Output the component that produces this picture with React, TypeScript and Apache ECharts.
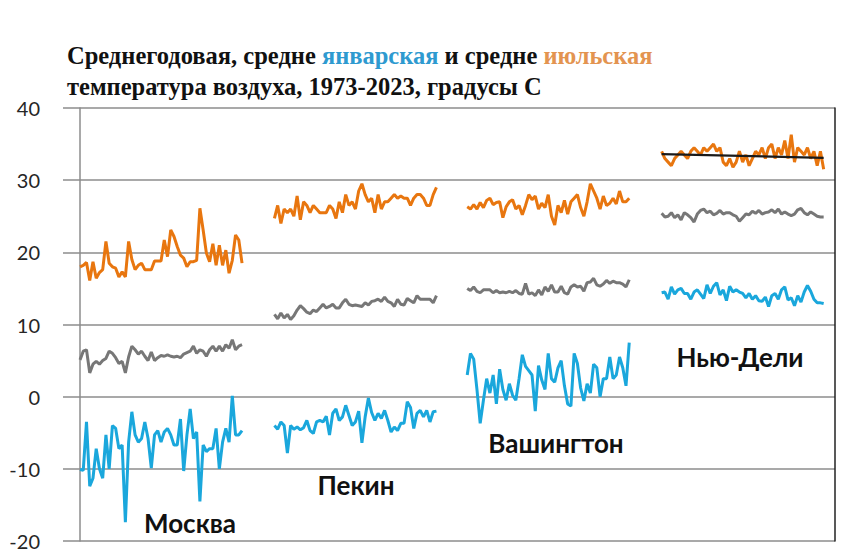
import React, { useEffect, useRef } from "react";
import * as echarts from "echarts";

// Years 1973..2023 (51 values per series)
const cities = ["Москва", "Пекин", "Вашингтон", "Нью-Дели"];

const moscowJuly = [18.0, 18.2, 18.6, 16.1, 18.7, 16.4, 17.2, 17.6, 21.5, 18.5, 18.0, 17.8, 16.6, 17.3, 16.6, 21.5, 19.0, 17.6, 18.2, 18.5, 17.6, 17.6, 17.6, 18.8, 18.8, 18.8, 21.7, 19.4, 23.1, 22.2, 20.8, 19.6, 19.2, 18.0, 18.7, 18.7, 18.9, 26.1, 23.1, 19.9, 18.7, 21.2, 18.2, 21.0, 18.2, 20.3, 17.1, 18.9, 22.4, 21.7, 18.5];
const moscowYear = [5.1, 6.3, 6.5, 3.3, 4.5, 4.9, 4.5, 5.0, 5.3, 6.3, 6.0, 5.4, 4.6, 4.9, 3.3, 5.5, 7.0, 6.5, 5.9, 6.3, 5.6, 5.0, 6.2, 5.0, 5.4, 5.7, 5.6, 5.8, 5.6, 5.5, 5.6, 5.4, 5.9, 6.1, 6.3, 7.0, 6.0, 6.5, 6.3, 5.6, 6.5, 7.0, 6.3, 7.0, 6.3, 7.2, 6.7, 7.9, 6.5, 7.0, 7.2];
const moscowJan = [-10.1, -10.2, -3.5, -12.4, -11.3, -7.2, -10, -11.3, -5.3, -10, -4, -4.4, -7.2, -6.7, -17.4, -6.3, -2.1, -5.3, -6.3, -5.8, -3.5, -5.8, -9.9, -5.3, -4.7, -6.3, -4.9, -4.4, -5.3, -6.7, -6.7, -3.1, -10.3, -5.3, -1.7, -5.8, -4.9, -14.5, -6.7, -7.6, -7.2, -7.2, -4.4, -10, -6.3, -4.4, -6.3, 0.1, -5.3, -5.3, -4.7];

const beijingJuly = [24.7, 26.5, 24, 26, 25.5, 26, 25, 27.8, 24.5, 27, 26.5, 25.5, 26.5, 26, 25.5, 25.5, 25.5, 26.5, 26, 24.7, 27, 25.5, 28, 26.5, 27, 26, 28.5, 29.5, 28, 27, 27.5, 25.5, 28, 26, 27, 27, 27.5, 28, 27.5, 27.8, 27.5, 27.5, 26.5, 27.5, 28, 28, 27.5, 26.5, 26.5, 28, 29];
const beijingYear = [11.4, 10.8, 11.6, 10.9, 11.4, 10.7, 11.2, 12, 12.6, 12.2, 11.7, 11.5, 12, 11.8, 12.3, 12.8, 12.3, 12.5, 12.8, 12.3, 12.3, 13, 13.5, 12.8, 12.6, 12.7, 12.6, 12.5, 13, 12.7, 13.2, 13.3, 13.5, 13.2, 13.8, 13.2, 13, 12.5, 13.5, 12.8, 12.7, 13.6, 13.3, 13, 14, 13.5, 13.5, 13.5, 13.5, 13, 14];
const beijingJan = [-4, -4.5, -3.5, -4, -7.8, -4, -4.5, -4.2, -4.6, -4.3, -3.3, -4.7, -5.1, -3.5, -3.3, -3.5, -2.7, -5.3, -2.3, -1.7, -3.3, -2.8, -1.2, -2.6, -4, -3.5, -2, -6.4, -2.8, -0.2, -2.2, -3.3, -2.3, -3, -1.9, -3.3, -4.9, -4.2, -4.7, -3.7, -3.7, -0.7, -1.5, -4.4, -2.3, -1.9, -2.8, -1.9, -3.5, -2.1, -2];

const washJuly = [26.3, 26.0, 26.6, 26.0, 26.9, 26.2, 27.2, 27.5, 26.6, 26.9, 27.0, 24.8, 26.3, 27.0, 27.3, 26.0, 26.5, 25.2, 26.5, 28.0, 27.3, 27.8, 26.0, 26.8, 26.2, 28.0, 25.0, 23.8, 26.5, 25.5, 27.2, 25.3, 27.0, 27.5, 28.0, 26.2, 25.0, 27.0, 29.5, 28.5, 27.5, 26.0, 27.8, 26.5, 26.8, 27.5, 26.7, 28.5, 27.0, 27.0, 27.5];
const washYear = [15.0, 14.7, 15.2, 14.6, 14.4, 14.8, 14.8, 14.8, 14.4, 14.7, 14.4, 14.5, 14.4, 14.6, 14.4, 14.7, 14.3, 14.2, 15.7, 14.2, 14.4, 14.0, 14.8, 14.1, 15.2, 14.6, 15.5, 14.5, 14.5, 15.3, 14.4, 14.2, 15.2, 15.5, 15.2, 15.3, 14.6, 15.8, 15.9, 16.4, 15.5, 15.3, 15.6, 16.1, 15.7, 16.0, 15.8, 15.8, 15.6, 15.2, 16.2];
const washJan = [3.0, 6.0, 5.2, 1.0, -3.7, -0.5, 2.5, 0.5, 3.0, -1.0, 3.8, 1.0, -0.5, 1.8, 0.2, -0.5, 2.5, 5.8, 4.2, 3.6, 3.0, -2.0, 4.3, 2.3, 1.0, 6.0, 2.5, 2.0, 4.0, 5.0, 1.5, -1.0, -1.3, 6.0, 4.6, 1.2, -0.6, 1.8, 0.5, 4.5, 4.0, 0.0, 2.5, 2.5, 5.5, 2.5, 3.0, 5.5, 4.0, 1.5, 7.5];

const delhiJuly = [34, 33, 32.5, 32, 33, 33.5, 34, 33.5, 33, 34, 34.5, 34, 33.5, 34.5, 34, 34.5, 35, 34, 34.5, 32.5, 32, 33, 31.8, 32.5, 34, 32.5, 33.5, 32, 33, 34, 33.5, 34.5, 33, 34.5, 35, 33, 34.5, 33.5, 35.5, 33, 36.3, 32.5, 34.5, 34, 33.5, 34.5, 33, 34, 32, 34, 31.5];
const delhiYear = [25.4, 24.9, 25, 25.5, 24.8, 25.2, 24.5, 25.5, 25.2, 24.8, 24.2, 25.3, 25.8, 26, 25.5, 25.7, 25.2, 25.4, 25.8, 25.3, 25.5, 25.5, 25.2, 25, 24.3, 24.8, 25.3, 25.2, 25.7, 25.4, 25.8, 25.3, 25.5, 25.6, 25.9, 25.5, 26, 25.3, 25.6, 25.3, 25.1, 25.3, 25.9, 26.1, 25.5, 25.2, 25.6, 25.3, 25, 24.9, 24.9];
const delhiJan = [14.4, 14.5, 13.5, 15.2, 14.2, 14.8, 15, 14.3, 14.3, 13.5, 14.5, 14.8, 14.2, 13.6, 15.5, 14.3, 15.3, 15.8, 14.1, 14.8, 13.3, 15.3, 14.5, 14.8, 14.5, 14.3, 13.7, 14.3, 13.5, 14, 13.3, 13.2, 13.8, 12.5, 14, 14.3, 13.5, 14.8, 15.2, 13.4, 13.7, 12.6, 14, 13.1, 14.5, 15.4, 14.6, 13.5, 13, 13, 12.9];
// July trend for New Delhi (first and last year)
const delhiTrend = [33.6, 33.1];

const yTicks = [-20, -10, 0, 10, 20, 30, 40];

const julyData = [moscowJuly, beijingJuly, washJuly, delhiJuly];
const yearData = [moscowYear, beijingYear, washYear, delhiYear];
const janData = [moscowJan, beijingJan, washJan, delhiJan];

const COLORS = { july: "#E8760F", year: "#777777", jan: "#1AA7DC" };
const cityOffsets = [0, 60, 119.5, 179.5];

export default function App() {
  const ref = useRef<HTMLDivElement>(null);
  useEffect(() => {
    if (!ref.current) return;
    const chart = echarts.init(ref.current, undefined, { renderer: "svg" });
    const toPts = (arr: number[], off: number) => arr.map((v, i) => [off + i, v]);
    const series: any[] = [];
    cities.forEach((c, ci) => {
      const off = cityOffsets[ci];
      [
        [julyData[ci], COLORS.july, "июль"],
        [yearData[ci], COLORS.year, "год"],
        [janData[ci], COLORS.jan, "январь"],
      ].forEach(([arr, color, nm]: any) => {
        series.push({
          type: "line",
          name: c + " " + nm,
          data: toPts(arr, off),
          showSymbol: false,
          symbol: "none",
          lineStyle: { color, width: 3 },
          z: 3,
        });
      });
    });
    series.push({
      type: "line",
      name: "тренд",
      data: [
        [cityOffsets[3], delhiTrend[0]],
        [cityOffsets[3] + 50, delhiTrend[1]],
      ],
      showSymbol: false,
      symbol: "none",
      lineStyle: { color: "#1a1a1a", width: 2.2 },
      z: 4,
    });

    const ts = { fontFamily: "Liberation Serif", fontWeight: "bold", fontSize: 24.5, lineHeight: 31 };
    chart.setOption({
      animation: false,
      title: {
        left: 62,
        top: 35,
        text:
          "{a|Среднегодовая, средне }{b|январская}{a| и средне }{c|июльская}\n{a|температура воздуха, 1973-2023, градусы С}",
        textStyle: {
          rich: {
            a: { ...ts, color: "#111" },
            b: { ...ts, color: "#2E9AD0" },
            c: { ...ts, color: "#E39450" },
          },
        },
      },
      grid: { left: 63, right: 15, top: 108, bottom: 11, containLabel: false },
      xAxis: { type: "value", min: -5.25, max: 233, show: false },
      yAxis: [
        {
          type: "value",
          min: yTicks[0],
          max: yTicks[yTicks.length - 1],
          interval: 10,
          axisLine: { show: true, lineStyle: { color: "#8c8c8c", width: 1.5 } },
          axisTick: { show: false },
          axisLabel: { fontFamily: "Lato", fontSize: 20, color: "#262626", margin: 23 },
          splitLine: { lineStyle: { color: "#8c8c8c", width: 1.5 } },
        },
        {
          type: "value",
          position: "right",
          min: yTicks[0],
          max: yTicks[yTicks.length - 1],
          interval: 10,
          axisLine: { show: true, onZero: false, lineStyle: { color: "#222", width: 1.5 } },
          axisTick: { show: false },
          axisLabel: { show: false },
          splitLine: { show: false },
        },
      ],
      graphic: [
        { type: "text", x: 190, y: 523, style: { text: cities[0], font: "bold 26px Lato", fill: "#111", textAlign: "center", textVerticalAlign: "middle" } },
        { type: "text", x: 356, y: 485, style: { text: cities[1], font: "bold 26px Lato", fill: "#111", textAlign: "center", textVerticalAlign: "middle" } },
        { type: "text", x: 556, y: 443, style: { text: cities[2], font: "bold 26px Lato", fill: "#111", textAlign: "center", textVerticalAlign: "middle" } },
        { type: "text", x: 740, y: 357, style: { text: cities[3], font: "bold 26px Lato", fill: "#111", textAlign: "center", textVerticalAlign: "middle" } },
      ],
      series,
    });
    return () => chart.dispose();
  }, []);
  return <div ref={ref} style={{ width: 850, height: 552, position: "absolute", left: 0, top: 0 }} />;
}
